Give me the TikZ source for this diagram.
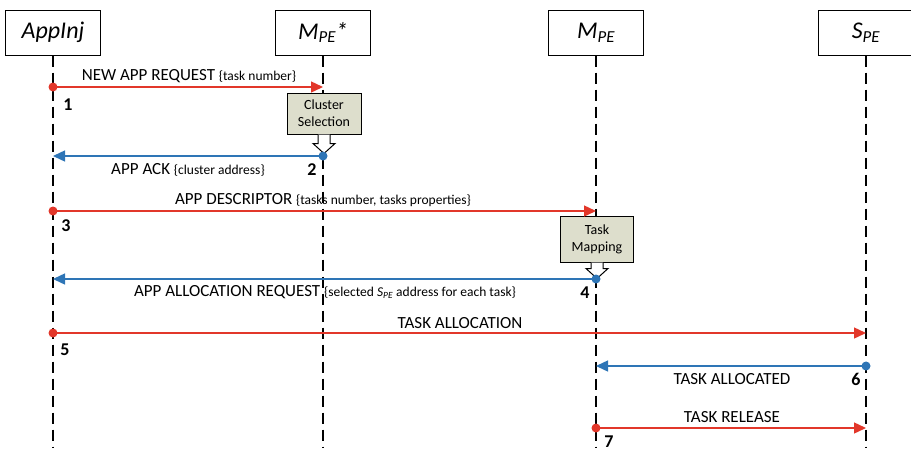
\documentclass[tikz,border=0pt]{standalone}
\usepackage{fontspec}
\setmainfont{Carlito}
\usepackage{xcolor}
\usetikzlibrary{arrows.meta, positioning, calc}

\definecolor{reqred}{RGB}{226,55,42}
\definecolor{ackblue}{RGB}{46,117,182}
\definecolor{boxfill}{RGB}{221,222,204}

\newcommand{\msgtxt}{\fontsize{17}{20}\selectfont}
\newcommand{\argtxt}{\fontsize{13.5}{15}\selectfont}

\tikzset{
  hdr/.style={draw, line width=1pt, minimum width=95pt, minimum height=45pt,
    inner sep=0pt, font=\fontsize{24}{28}\selectfont\itshape},
  life/.style={line width=1.4pt, dash pattern=on 11pt off 6pt},
  req/.style={reqred, line width=1.4pt, -{Triangle[length=12pt,width=11pt]}},
  ack/.style={ackblue, line width=1.4pt, -{Triangle[length=12pt,width=11pt]}},
  lbl/.style={font=\msgtxt, inner sep=0pt, anchor=base},
  num/.style={font=\fontsize{18}{20}\selectfont\bfseries, inner sep=0pt, anchor=base},
  work/.style={draw, line width=1pt, fill=boxfill, align=center,
    font=\fontsize{14}{17}\selectfont, inner sep=0pt},
  callout/.style={draw, line width=1pt, fill=white, line join=miter}
}

\begin{document}
\begin{tikzpicture}[x=1pt, y=-1pt]
          \useasboundingbox (0,0) rectangle (911,448);

          \node[hdr] (inj) at (53,32.5) {AppInj};
          \node[hdr] (mpes) at (323,32.5) {M\textsubscript{PE}*};
          \node[hdr] (mpe) at (596,32.5) {M\textsubscript{PE}};
          \node[hdr] (spe) at (866,32.5) {S\textsubscript{PE}};

          \coordinate (injEnd) at (53,448);
          \coordinate (mpesEnd) at (323,448);
          \coordinate (mpeEnd) at (596,448);
          \coordinate (speEnd) at (866,448);

          \draw[life] (inj.south) -- (injEnd);
          \draw[life] (mpes.south) -- (mpesEnd);
          \draw[life] (mpe.south) -- (mpeEnd);
          \draw[life] (spe.south) -- (speEnd);

          \coordinate (m1a) at (53,87);
          \coordinate (m1b) at (323,87);
          \coordinate (m2a) at (323,156);
          \coordinate (m2b) at (53,156);
          \coordinate (m3a) at (53,211);
          \coordinate (m3b) at (596,211);
          \coordinate (m4a) at (596,279);
          \coordinate (m4b) at (53,279);
          \coordinate (m5a) at (53,333);
          \coordinate (m5b) at (866,333);
          \coordinate (m6a) at (866,366);
          \coordinate (m6b) at (596,366);
          \coordinate (m7a) at (596,428);
          \coordinate (m7b) at (866,428);

          % processing boxes
          \node[work, minimum width=74pt, minimum height=41pt] (clsel) at (324,113.5) {Cluster\\Selection};
          \draw[callout] ([xshift=-6pt]clsel.south) -- ++(0,9) -- ++(-5,0) -- ++(11,10)
            -- ++(11,-10) -- ++(-5,0) -- ++(0,-9);
          \node[work, minimum width=73pt, minimum height=46pt] (tmap) at (597,239) {Task\\Mapping};
          \draw[callout] ([xshift=-6pt]tmap.south) -- ++(0,6) -- ++(-5,0) -- ++(11,10)
            -- ++(11,-10) -- ++(-5,0) -- ++(0,-6);

          \draw[req] (m1a) -- (m1b);
          \draw[ack] (m2a) -- (m2b);
          \draw[req] (m3a) -- (m3b);
          \draw[ack] (m4a) -- (m4b);
          \draw[req] (m5a) -- (m5b);
          \draw[ack] (m6a) -- (m6b);
          \draw[req] (m7a) -- (m7b);

          \fill[reqred] (m1a) circle (4.5pt);
          \fill[ackblue] (m2a) circle (4.5pt);
          \fill[reqred] (m3a) circle (4.5pt);
          \fill[ackblue] (m4a) circle (4.5pt);
          \fill[reqred] (m5a) circle (4.5pt);
          \fill[ackblue] (m6a) circle (4.5pt);
          \fill[reqred] (m7a) circle (4.5pt);

          \node[lbl] (l1) at (189,80) {NEW APP REQUEST {\argtxt\{task number\}}};
          \node[lbl] (l2) at (188,174) {APP ACK {\argtxt\{cluster address\}}};
          \node[lbl] (l3) at (323,204) {APP DESCRIPTOR {\argtxt\{tasks number, tasks properties\}}};
          \node[lbl] (l4) at (325,296) {APP ALLOCATION REQUEST {\argtxt\{selected \textit{S}\textsubscript{\itshape PE} address for each task\}}};
          \node[lbl] (l5) at (460,328) {TASK ALLOCATION};
          \node[lbl] (l6) at (732,384) {TASK ALLOCATED};
          \node[lbl] (l7) at (732,422) {TASK RELEASE};

          \node[num] (n1) at (68,110) {1};
          \node[num] (n2) at (312,175) {2};
          \node[num] (n3) at (66,231) {3};
          \node[num] (n4) at (585,298) {4};
          \node[num] (n5) at (65,355) {5};
          \node[num] (n6) at (856,385) {6};
          \node[num] (n7) at (609,447) {7};
        \end{tikzpicture}
\end{document}
